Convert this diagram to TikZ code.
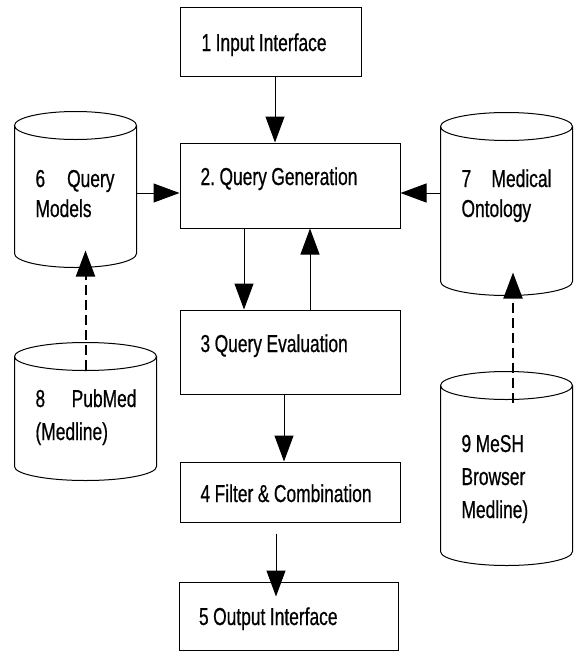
\documentclass[tikz,border=0pt]{standalone}
\usepackage{fontspec}
\setmainfont{Liberation Sans}[FakeStretch=0.71, FakeBold=0.6]
\usetikzlibrary{arrows.meta,positioning,calc}
\newcommand{\dbdraw}[1]{\draw[-] let \p1=(#1.north west), \p2=(#1.south east),
 \n1={(\x2-\x1)/2} in (\x1,\y1-14pt) -- (\x1,\y2+14pt)
 arc[start angle=180, end angle=360, x radius=\n1, y radius=14pt]
 -- (\x2,\y1-14pt) arc[start angle=0, end angle=360, x radius=\n1, y radius=14pt];}

\begin{document}
\begin{tikzpicture}[x=1pt, y=-1pt, ->, >={Triangle[length=26pt,width=19pt]},
 line width=1pt,
 box/.style={draw, rectangle, inner sep=0pt},
 db/.style={rectangle, inner sep=0pt},
 txt/.style={anchor=base west, inner sep=0pt, text width=200pt, align=left,
  font=\fontsize{24.5}{30}\selectfont,
  execute at begin node={\frenchspacing\spaceskip=4.5pt plus 1pt\relax}},
 dasharrow/.style={->, line width=2pt, dash pattern=on 10pt off 5pt}]
\useasboundingbox (0,0) rectangle (574,651);
% process boxes
\node[box, minimum width=181pt, minimum height=69pt] (b1) at (270.5,42) {};
\node[box, minimum width=220pt, minimum height=85pt] (b2) at (290,185.5) {};
\node[box, minimum width=220pt, minimum height=84pt] (b3) at (290,352) {};
\node[box, minimum width=220pt, minimum height=60pt] (b4) at (290,492) {};
\node[box, minimum width=219pt, minimum height=68pt] (b5) at (288.5,616) {};
\node[txt] (t1) at (201,51) {1 Input Interface};
\node[txt] (t2) at (200,185) {2. Query Generation};
\node[txt] (t3) at (200,352) {3 Query Evaluation};
\node[txt] (t4) at (200,502) {4 Filter \& Combination};
\node[txt] (t5) at (198.5,625) {5 Output Interface};
% data stores
\node[db, minimum width=121pt, minimum height=155pt] (c6) at (75.5,189.5) {};
\node[db, minimum width=131pt, minimum height=182pt] (c7) at (506.5,204) {};
\node[db, minimum width=141pt, minimum height=137pt] (c8) at (85.5,411.5) {};
\node[db, minimum width=131pt, minimum height=193pt] (c9) at (506.5,468.5) {};
\dbdraw{c6} \dbdraw{c7} \dbdraw{c8} \dbdraw{c9}
\node[txt] (t6) at (35,187) {\makebox[79pt]{6\hfill Query}\\Models};
\node[txt] (t7) at (461,187) {\makebox[90pt]{7\hfill Medical}\\Ontology};
\node[txt, font=\fontsize{24.5}{33}\selectfont] (t8) at (35,407)
 {\makebox[101pt]{8\hfill PubMed}\\(Medline)};
\node[txt, font=\fontsize{24.5}{33}\selectfont] (t9) at (461,452)
 {9 MeSH\\Browser\\Medline)};
% flow
\draw ([xshift=4.5pt]b1.south) -- ([xshift=4.5pt]b1.south |- b2.north);
\draw ([xshift=-46pt]b2.south) -- ([xshift=-46pt]b2.south |- b3.north);
\draw ([xshift=20pt]b3.north) -- ([xshift=20pt]b3.north |- b2.south);
\draw ([xshift=-6pt]b3.south) -- ([xshift=-6pt]b3.south |- b4.north);
\draw[shorten <=11pt, shorten >=-15pt] ([xshift=-14pt]b4.south)
 -- ([xshift=-14pt]b4.south |- b5.north);
\draw ([yshift=-7.5pt]b2.west -| c6.east) -- ([yshift=-7.5pt]b2.west);
\draw ([yshift=-7.5pt]b2.east -| c7.west) -- ([yshift=-7.5pt]b2.east);
\draw[dasharrow] ([yshift=-27pt]c8.north) -- ([yshift=17pt]c6.south -| c8.north);
\draw[dasharrow] ([xshift=6.5pt,yshift=-31pt]c9.north)
 -- ([xshift=6.5pt,yshift=23pt]c7.south);
\end{tikzpicture}
\end{document}
